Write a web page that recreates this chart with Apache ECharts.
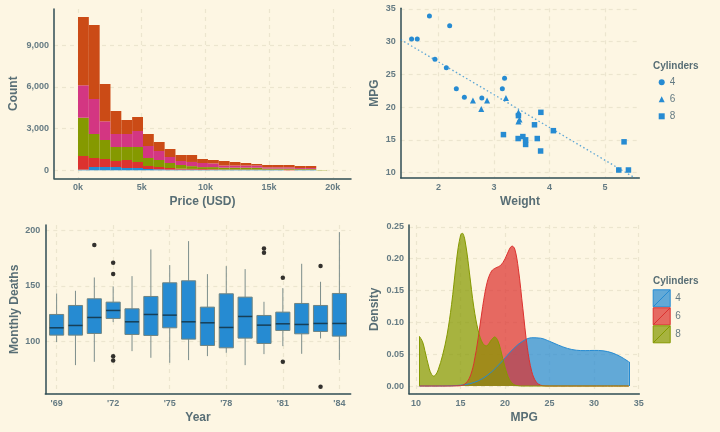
<!DOCTYPE html>
<html>
<head>
<meta charset="utf-8">
<script src="https://cdn.jsdelivr.net/npm/echarts@6.0.0/dist/echarts.min.js"></script>
<style>
  html, body { margin: 0; padding: 0; background: #fdf6e3; }
  #main { width: 720px; height: 432px; }
</style>
</head>
<body>
<div id="main"></div>
<script>
// ---- panel 1: diamonds price histogram, stacked by cut ----
var binLeft = [0, 850, 1700, 2550, 3400, 4250, 5100, 5950, 6800, 7650, 8500, 9350,
  10200, 11050, 11900, 12750, 13600, 14450, 15300, 16150, 17000, 17850, 18700];
var binWidth = 850;
var cutNames = ['Fair', 'Good', 'Very Good', 'Premium', 'Ideal'];
var cutColors = ['#268bd2', '#dc322f', '#859900', '#d33682', '#cb4b16'];
var fair     = [50, 238, 238, 238, 166, 166, 94, 70, 50, 50, 50, 40, 40, 40, 40, 40, 40, 40, 40, 0, 40, 40, 0];
var good     = [980, 648, 576, 432, 576, 432, 216, 168, 116, 65, 50, 50, 40, 20, 20, 20, 20, 10, 10, 50, 10, 10, 0];
var veryGood = [2757, 1728, 1368, 1008, 936, 1080, 576, 504, 360, 267, 200, 140, 150, 130, 130, 130, 127, 70, 70, 70, 50, 50, 20];
var premium  = [2333, 2520, 1346, 936, 936, 1152, 864, 648, 432, 288, 300, 296, 270, 156, 156, 156, 159, 96, 96, 96, 66, 66, 0];
var ideal    = [4918, 5328, 2686, 1656, 1008, 1008, 864, 648, 576, 432, 502, 288, 242, 324, 252, 180, 108, 166, 166, 166, 144, 144, 0];
var countTicks = [0, 3000, 6000, 9000];
var priceTicks = [0, 5000, 10000, 15000, 20000];

// ---- panel 2: mtcars weight vs mpg ----
var wt4 = [2.320, 3.190, 3.150, 2.200, 1.615, 1.835, 2.465, 1.935, 2.140, 1.513, 2.780];
var mpg4 = [22.8, 24.4, 22.8, 32.4, 30.4, 33.9, 21.5, 27.3, 26.0, 30.4, 21.4];
var wt6 = [2.620, 2.875, 3.215, 3.460, 3.440, 3.440, 2.770];
var mpg6 = [21.0, 21.0, 21.4, 18.1, 19.2, 17.8, 19.7];
var wt8 = [3.440, 3.570, 4.070, 3.730, 3.780, 5.250, 5.424, 5.345, 3.520, 3.435, 3.840, 3.845, 3.170, 3.570];
var mpg8 = [18.7, 14.3, 16.4, 17.3, 15.2, 10.4, 10.4, 14.7, 15.5, 15.2, 13.3, 19.2, 15.8, 15.0];
var fitLine = [[1.317, 30.3], [5.62, 8.8]];
var weightTicks = [2, 3, 4, 5];
var mpgTicks = [10, 15, 20, 25, 30, 35];

// ---- panel 3: monthly deaths by year ----
var yearLabels = ["'69", "'70", "'71", "'72", "'73", "'74", "'75", "'76",
  "'77", "'78", "'79", "'80", "'81", "'82", "'83", "'84"];
// [lower whisker, Q1, median, Q3, upper whisker]
var boxStats = [
  [99.5, 105.8, 112.4, 124.4, 143.3],
  [78.8, 105.8, 114.5, 132.5, 145.7],
  [81.8, 107.3, 121.7, 138.5, 157.7],
  [117.5, 120.8, 128.0, 135.5, 149.6],
  [91.4, 106.4, 117.8, 129.5, 158.9],
  [85.4, 105.5, 124.4, 140.6, 182.9],
  [80.9, 112.4, 123.8, 152.9, 168.8],
  [83.3, 102.2, 117.8, 154.7, 190.4],
  [86.9, 96.5, 116.9, 131.0, 160.7],
  [89.9, 94.4, 112.7, 143.0, 167.9],
  [78.8, 103.1, 122.6, 140.0, 165.2],
  [88.7, 98.3, 114.8, 123.5, 135.8],
  [95.9, 110.0, 116.0, 126.5, 148.1],
  [89.0, 107.0, 115.4, 134.3, 170.0],
  [102.8, 109.1, 116.3, 132.5, 153.8],
  [83.3, 104.9, 116.3, 143.3, 198.5]
];
var outliers = [[2, 186.8], [3, 170.9], [3, 160.7], [3, 86.9], [3, 83.0],
  [11, 183.8], [11, 179.9], [12, 157.4], [12, 81.8], [14, 167.9], [14, 59.3]];
var yearTicks = [0, 3, 6, 9, 12, 15];
var deathTicks = [100, 150, 200];

// ---- panel 4: mpg density by cylinders ----
var dens4 = [[10.4, 0], [12, 0], [13, 0.0001], [14, 0.0004], [15, 0.0013], [16, 0.0035], [17, 0.0082],
  [18, 0.0166], [19, 0.0289], [20, 0.0441], [21, 0.0592], [22, 0.0705], [23, 0.0758], [24, 0.0751],
  [25, 0.0702], [26, 0.0642], [27, 0.0591], [28, 0.0562], [29, 0.0556], [30, 0.0559], [31, 0.0553],
  [32, 0.0522], [33, 0.0459], [33.9, 0.038]];
var dens6 = [[10.4, 0], [13, 0], [14, 0.0001], [15, 0.0006], [15.5, 0.0031], [16, 0.0122], [16.5, 0.0353],
  [17, 0.0761], [17.5, 0.1251], [18, 0.163], [18.5, 0.1806], [19, 0.1857], [19.5, 0.1892], [20, 0.1995],
  [20.5, 0.2151], [20.8, 0.2197], [21.1, 0.2150], [21.5, 0.184], [22, 0.122], [22.5, 0.0609], [23, 0.0228],
  [23.5, 0.0063], [24, 0.0013], [24.5, 0.0002], [25, 0], [30, 0], [33.9, 0]];
var dens8 = [[10.4, 0.0778], [10.75, 0.0694], [11, 0.0559], [11.5, 0.0271], [11.75, 0.0185],
  [12, 0.0156], [12.25, 0.0183], [12.5, 0.0253], [13, 0.0485], [13.5, 0.0804], [14, 0.1277], [14.5, 0.190],
  [14.75, 0.2177], [15, 0.2356], [15.1, 0.2390], [15.25, 0.2396], [15.4, 0.2350], [15.5, 0.2292],
  [15.75, 0.2071], [16, 0.1789], [16.5, 0.1237], [17, 0.0866], [17.5, 0.067],
  [17.9, 0.063], [18.5, 0.0729], [18.85, 0.0771], [19.2, 0.071], [19.5, 0.0576], [20, 0.0295], [20.5, 0.01],
  [21, 0.0022], [21.5, 0.0003], [22, 0], [26, 0], [30, 0], [33.9, 0]];
// vertical edges where a density curve starts or ends above zero: [mpg, density]
var densEdges = [[33.9, 0.038], null, [10.4, 0.0778]];
var densTicks = [0, 0.05, 0.10, 0.15, 0.20, 0.25];
var cylColors = ['#268bd2', '#dc322f', '#859900'];

var FONT = 'Liberation Sans';
var TICK_COLOR = '#657b83';
var TITLE_COLOR = '#586e75';
var AXIS_COLOR = '#2f4d54';
var GRID_COLOR = '#ece5cf';

function axis(grid, min, max, ticks, fmt, name, gap) {
  return {
    type: 'value', gridIndex: grid, min: min, max: max,
    name: name, nameLocation: 'middle', nameGap: gap,
    nameTextStyle: { fontFamily: FONT, fontSize: 12, fontWeight: 'bold', color: TITLE_COLOR },
    axisLine: { show: true, onZero: false, lineStyle: { color: AXIS_COLOR, width: 1.5 } },
    axisTick: { show: false, customValues: ticks },
    axisLabel: { customValues: ticks, formatter: fmt, margin: 5,
      fontFamily: FONT, fontSize: 9, fontWeight: 'bold', color: TICK_COLOR },
    splitLine: { show: true, lineStyle: { color: GRID_COLOR, width: 1.2, type: [4, 4] } }
  };
}

// stack the cut counts into [x0, x1, base, top] rectangles
var histSeries = [];
var cum = binLeft.map(function () { return 0; });
[fair, good, veryGood, premium, ideal].forEach(function (arr, k) {
  var rows = arr.map(function (v, i) {
    var r = [binLeft[i], binLeft[i] + binWidth, cum[i], cum[i] + v];
    cum[i] += v;
    return r;
  });
  histSeries.push({
    type: 'custom', name: cutNames[k], xAxisIndex: 0, yAxisIndex: 0,
    itemStyle: { color: cutColors[k] },
    encode: { x: [0, 1], y: [2, 3] },
    renderItem: function (params, api) {
      if (api.value(3) <= api.value(2)) return;
      var p0 = api.coord([api.value(0), api.value(3)]);
      var p1 = api.coord([api.value(1), api.value(2)]);
      return { type: 'rect',
        shape: { x: p0[0], y: p0[1], width: p1[0] - p0[0], height: p1[1] - p0[1] },
        style: { fill: cutColors[k] } };
    },
    data: rows
  });
});

function pairs(xs, ys) { return xs.map(function (x, i) { return [x, ys[i]]; }); }

var scatterSeries = [
  { name: '4', symbol: 'circle', symbolSize: 5, data: pairs(wt4, mpg4) },
  { name: '6', symbol: 'triangle', symbolSize: 6, data: pairs(wt6, mpg6) },
  { name: '8', symbol: 'rect', symbolSize: 5.5, data: pairs(wt8, mpg8) }
].map(function (s) {
  return { type: 'scatter', name: s.name, xAxisIndex: 1, yAxisIndex: 1, symbol: s.symbol,
    symbolSize: s.symbolSize, itemStyle: { color: '#268bd2', opacity: 1 }, data: s.data, z: 3 };
});

var boxSeries = {
  type: 'custom', xAxisIndex: 2, yAxisIndex: 2,
  encode: { x: 0, y: [1, 2, 3, 4, 5] },
  data: boxStats.map(function (s, i) { return [i].concat(s); }),
  renderItem: function (params, api) {
    var i = api.value(0);
    var lo = api.coord([i, api.value(1)]);
    var q1 = api.coord([i, api.value(2)]);
    var md = api.coord([i, api.value(3)]);
    var q3 = api.coord([i, api.value(4)]);
    var hi = api.coord([i, api.value(5)]);
    var w = api.size([0.75, 0])[0];
    var x = lo[0];
    var wh = { stroke: '#7d8e8c', lineWidth: 1 };
    return { type: 'group', children: [
      { type: 'line', shape: { x1: x, y1: hi[1], x2: x, y2: q3[1] }, style: wh },
      { type: 'line', shape: { x1: x, y1: q1[1], x2: x, y2: lo[1] }, style: wh },
      { type: 'rect', shape: { x: x - w / 2, y: q3[1], width: w, height: q1[1] - q3[1] },
        style: { fill: '#268bd2', stroke: '#6f8482', lineWidth: 1 } },
      { type: 'line', shape: { x1: x - w / 2, y1: md[1], x2: x + w / 2, y2: md[1] },
        style: { stroke: '#173f57', lineWidth: 1.5 } }
    ] };
  }
};

var densSeries = [dens4, dens6, dens8].map(function (d, k) {
  var s = { type: 'line', name: ['4', '6', '8'][k], xAxisIndex: 3, yAxisIndex: 3,
    data: d, showSymbol: false, smooth: 0.35,
    lineStyle: { color: cylColors[k], width: 1 },
    itemStyle: { color: cylColors[k] },
    areaStyle: { color: cylColors[k], opacity: 0.72, origin: 0 } };
  if (densEdges[k]) {
    var e = densEdges[k];
    s.markLine = { silent: true, symbol: 'none', label: { show: false },
      lineStyle: { color: cylColors[k], width: 1, type: 'solid' },
      data: [[{ coord: [e[0], 0] }, { coord: [e[0], e[1]] }]] };
  }
  return s;
});

var keyPath = 'path://M0,0H17V17H0Z M0,17L17,0';
var titleStyle = { fontFamily: FONT, fontSize: 10, fontWeight: 'bold', color: TITLE_COLOR };
var legendText = { fontFamily: FONT, fontSize: 10, color: TICK_COLOR, lineHeight: 10 };

var option = {
  backgroundColor: '#fdf6e3',
  animation: false,
  title: [
    { text: 'Cylinders', left: 653, top: 61, padding: 0, textStyle: titleStyle },
    { text: 'Cylinders', left: 653, top: 276.5, padding: 0, textStyle: titleStyle }
  ],
  legend: [
    { orient: 'vertical', left: 658.7, top: 77.3, padding: 0, itemWidth: 6, itemHeight: 6, itemGap: 7,
      selectedMode: false, textStyle: legendText,
      data: [
        { name: '4', icon: 'circle', itemStyle: { color: '#268bd2', borderWidth: 0 } },
        { name: '6', icon: 'triangle', itemStyle: { color: '#268bd2', borderWidth: 0 } },
        { name: '8', icon: 'rect', itemStyle: { color: '#268bd2', borderWidth: 0 } }
      ] },
    { orient: 'vertical', left: 652.7, top: 289.3, padding: 0, itemWidth: 17, itemHeight: 17, itemGap: 0,
      selectedMode: false, textStyle: legendText,
      data: ['4', '6', '8'].map(function (n, k) {
        return { name: n, icon: keyPath,
          itemStyle: { color: echarts.color.modifyAlpha(cylColors[k], 0.72), borderColor: cylColors[k], borderWidth: 1 } };
      }) }
  ],
  grid: [
    { left: 54, top: 9, width: 297, height: 169.3 },
    { left: 400.7, top: 8.3, width: 238.6, height: 169.4 },
    { left: 45.3, top: 225, width: 305.4, height: 168.7 },
    { left: 409, top: 225, width: 230.3, height: 168.7 }
  ],
  xAxis: [
    axis(0, -1884, 21428, priceTicks, function (v) { return (v / 1000) + 'k'; }, 'Price (USD)', 17),
    axis(1, 1.317, 5.62, weightTicks, function (v) { return String(v); }, 'Weight', 18),
    axis(2, -0.6, 15.6, yearTicks, function (v) { return yearLabels[Math.round(v)]; }, 'Year', 18),
    axis(3, 9.225, 35.075, mpgTicks, function (v) { return String(v); }, 'MPG', 18)
  ],
  yAxis: [
    axis(0, -576, 11614, countTicks, function (v) { return v.toLocaleString('en-US'); }, 'Count', 34),
    axis(1, 9.225, 35.075, mpgTicks, function (v) { return String(v); }, 'MPG', 20),
    axis(2, 53.1, 204.9, deathTicks, function (v) { return String(v); }, 'Monthly Deaths', 25),
    axis(3, -0.01204, 0.2528, densTicks, function (v) { return v.toFixed(2); }, 'Density', 28.5)
  ],
  series: histSeries.concat(scatterSeries, [
    { type: 'line', xAxisIndex: 1, yAxisIndex: 1, data: fitLine, showSymbol: false, clip: true, z: 2,
      lineStyle: { color: 'rgba(38,139,210,0.75)', width: 1.3, type: [1.5, 2.5] } },
    boxSeries,
    { type: 'scatter', xAxisIndex: 2, yAxisIndex: 2, data: outliers, symbol: 'circle', symbolSize: 4.5,
      itemStyle: { color: '#000000' }, z: 4 }
  ], densSeries)
};

var chart = echarts.init(document.getElementById('main'), null, { renderer: 'canvas' });
chart.setOption(option);
</script>
</body>
</html>
